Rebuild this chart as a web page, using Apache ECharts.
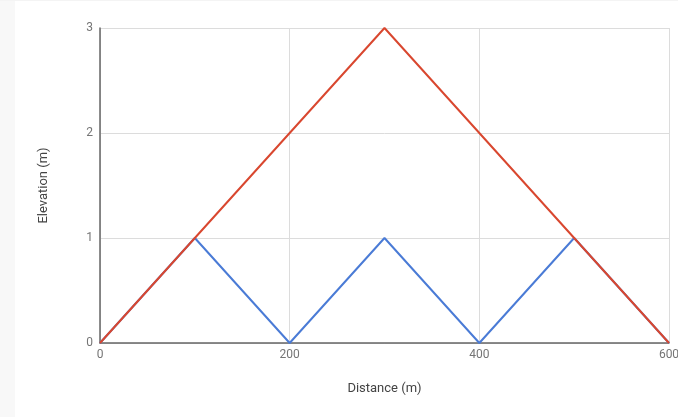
<!DOCTYPE html>
<html><head><meta charset="utf-8">
<script src="https://cdn.jsdelivr.net/npm/echarts@6/dist/echarts.min.js"></script>
<style>html,body{margin:0;padding:0;background:#fff}#c{width:678px;height:417px}</style>
</head><body><div id="c"></div>
<script>
const distances = [0, 100, 200, 300, 400, 500, 600];
const blueElev = [0, 1, 0, 1, 0, 1, 0];
const redDist = [0, 300, 600];
const redElev = [0, 3, 0];
const xName = 'Distance (m)';
const yName = 'Elevation (m)';

const chart = echarts.init(document.getElementById('c'));
const lab = {color:'#757575', fontFamily:'Roboto', fontSize:12};
chart.setOption({
  animation:false,
  backgroundColor:'#ffffff',
  graphic:[
    {type:'rect', shape:{x:0,y:0,width:15,height:417}, style:{fill:'#f8f8f8'}, z:-10},
    {type:'rect', shape:{x:0,y:0,width:678,height:1}, style:{fill:'#f4f4f4'}, z:-10}
  ],
  grid:{left:100, right:9, top:28, bottom:74, outerBoundsMode:'none', containLabel:false},
  xAxis:{type:'value', min:0, max:600, interval:200,
    name:xName, nameLocation:'middle', nameGap:39,
    nameTextStyle:{color:'#444', fontFamily:'Roboto', fontSize:13},
    axisLine:{show:true, onZero:false, lineStyle:{color:'#666', width:1.5}},
    axisTick:{show:false},
    axisLabel:Object.assign({margin:6, showMaxLabel:true}, lab),
    splitLine:{show:true, lineStyle:{color:'#dcdcdc', width:1}}
  },
  yAxis:{type:'value', min:0, max:3, interval:1,
    name:yName, nameLocation:'middle', nameGap:50, nameRotate:90,
    nameTextStyle:{color:'#444', fontFamily:'Roboto', fontSize:13},
    axisLine:{show:true, lineStyle:{color:'#666', width:1.5}},
    axisTick:{show:false},
    axisLabel:Object.assign({margin:7}, lab),
    splitLine:{show:true, lineStyle:{color:'#dcdcdc', width:1}}
  },
  series:[
    {type:'line', data:distances.map((d,i)=>[d, blueElev[i]]), symbol:'none',
     lineStyle:{color:'#4a7bd6', width:2}, z:2},
    {type:'line', data:redDist.map((d,i)=>[d, redElev[i]]), symbol:'none',
     lineStyle:{color:'#d9472f', width:2}, z:3}
  ]
});
</script></body></html>
